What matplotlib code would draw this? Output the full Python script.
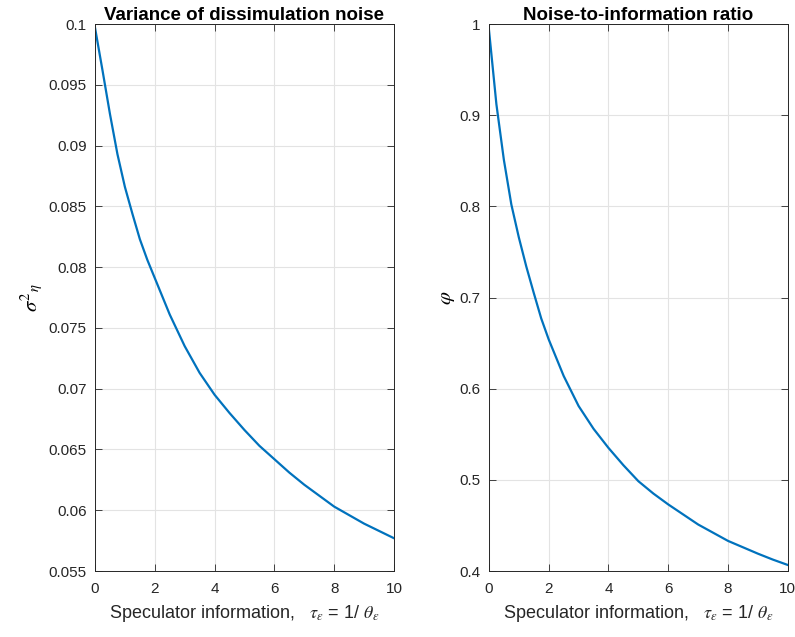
import numpy as np
import matplotlib
matplotlib.use("Agg")
import matplotlib.pyplot as plt
from matplotlib.ticker import FuncFormatter

# values
tau = [0, 0.25, 0.5, 0.75, 1, 1.25, 1.5, 1.75, 2, 2.5, 3, 3.5, 4, 4.5, 5,
       5.5, 6, 6.5, 7, 7.5, 8, 8.5, 9, 9.5, 10]
noise_var = [0.0997, 0.0962, 0.0926, 0.0893, 0.0866, 0.0844, 0.0823, 0.0806,
             0.0791, 0.0761, 0.0735, 0.0713, 0.0695, 0.0680, 0.0666, 0.0653,
             0.0642, 0.0631, 0.0621, 0.0612, 0.0603, 0.0596, 0.0589, 0.0583,
             0.0577]
noise_ratio = [0.994, 0.912, 0.851, 0.802, 0.766, 0.734, 0.705, 0.677,
               0.654, 0.614, 0.581, 0.556, 0.535, 0.516, 0.4985, 0.485,
               0.473, 0.462, 0.451, 0.442, 0.433, 0.426, 0.419, 0.4125,
               0.4066]

x_ticks = [0, 2, 4, 6, 8, 10]
left_yticks = np.arange(0.055, 0.1001, 0.005)
right_yticks = [0.4, 0.5, 0.6, 0.7, 0.8, 0.9, 1.0]

titles = ["Variance of dissimulation noise", "Noise-to-information ratio"]
ylabels = [r"$\sigma^{2}{}_{\eta}$", r"$\varphi$"]
xlabel = r"Speculator information,   $\tau_{\epsilon}$ = 1/ $\theta_{\epsilon}$"

plt.rcParams["font.family"] = ["Liberation Sans", "DejaVu Sans"]
plt.rcParams["mathtext.fontset"] = "stix"

LINE = "#0072BD"
AXC = "#262626"


def style_axes(ax, yticks, ylim):
    ax.set_xlim(0, 10)
    ax.set_ylim(*ylim)
    ax.set_xticks(x_ticks)
    ax.set_yticks(yticks)
    ax.yaxis.set_major_formatter(FuncFormatter(lambda v, p: f"{round(v, 4):g}"))
    ax.tick_params(direction="in", length=5, width=0.6, colors=AXC,
                   labelsize=11, top=True, right=True, pad=6)
    ax.tick_params(axis="x", pad=8)
    ax.grid(True, color="#e3e3e3", linewidth=0.8)
    ax.set_axisbelow(True)
    for s in ax.spines.values():
        s.set_color(AXC)
        s.set_linewidth(0.7)


fig = plt.figure(figsize=(7.95, 6.37), dpi=100)
ax1 = fig.add_axes([0.1195, 0.1036, 0.376, 0.8587])
ax2 = fig.add_axes([0.615, 0.1036, 0.376, 0.8587])

for ax, ys, yt, yl, t, lab in [
    (ax1, noise_var, left_yticks, (0.055, 0.1), titles[0], ylabels[0]),
    (ax2, noise_ratio, right_yticks, (0.4, 1.0), titles[1], ylabels[1]),
]:
    ax.plot(tau, ys, color=LINE, linewidth=1.6, solid_joinstyle="round")
    style_axes(ax, yt, yl)
    ax.set_title(t, fontsize=13.5, fontweight="bold", pad=3)
    ax.set_ylabel(lab, fontsize=15, labelpad=2)
    ax.set_xlabel(xlabel, fontsize=13, color=AXC, labelpad=5)

fig.savefig("out.png", dpi=100)
